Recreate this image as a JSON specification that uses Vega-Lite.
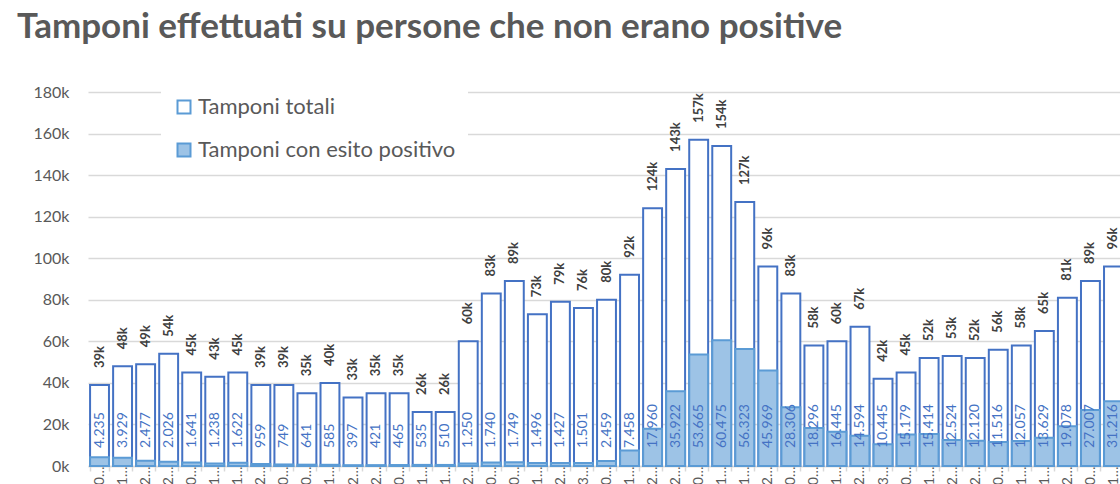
{
  "$schema": "https://vega.github.io/schema/vega-lite/v6.json",
  "width": 1032,
  "height": 374,
  "autosize": {"type": "none"},
  "padding": {"left": 88, "top": 92, "right": 0, "bottom": 18},
  "background": "white",
  "title": {
    "text": "Tamponi effettuati su persone che non erano positive",
    "anchor": "start",
    "frame": "group",
    "font": "Lato",
    "fontSize": 35,
    "fontWeight": "bold",
    "color": "#595959",
    "dx": -71,
    "offset": 39
  },
  "data": {
    "values": [
      {"settimana": "06/05/2020", "totali": 39000, "positivi": 4235},
      {"settimana": "13/05/2020", "totali": 48000, "positivi": 3929},
      {"settimana": "20/05/2020", "totali": 49000, "positivi": 2477},
      {"settimana": "27/05/2020", "totali": 54000, "positivi": 2026},
      {"settimana": "03/06/2020", "totali": 45000, "positivi": 1641},
      {"settimana": "10/06/2020", "totali": 43000, "positivi": 1238},
      {"settimana": "17/06/2020", "totali": 45000, "positivi": 1622},
      {"settimana": "24/06/2020", "totali": 39000, "positivi": 959},
      {"settimana": "01/07/2020", "totali": 39000, "positivi": 749},
      {"settimana": "08/07/2020", "totali": 35000, "positivi": 641},
      {"settimana": "15/07/2020", "totali": 40000, "positivi": 585},
      {"settimana": "22/07/2020", "totali": 33000, "positivi": 397},
      {"settimana": "29/07/2020", "totali": 35000, "positivi": 421},
      {"settimana": "05/08/2020", "totali": 35000, "positivi": 465},
      {"settimana": "12/08/2020", "totali": 26000, "positivi": 535},
      {"settimana": "19/08/2020", "totali": 26000, "positivi": 510},
      {"settimana": "26/08/2020", "totali": 60000, "positivi": 1250},
      {"settimana": "02/09/2020", "totali": 83000, "positivi": 1740},
      {"settimana": "09/09/2020", "totali": 89000, "positivi": 1749},
      {"settimana": "16/09/2020", "totali": 73000, "positivi": 1496},
      {"settimana": "23/09/2020", "totali": 79000, "positivi": 1427},
      {"settimana": "30/09/2020", "totali": 76000, "positivi": 1501},
      {"settimana": "07/10/2020", "totali": 80000, "positivi": 2459},
      {"settimana": "14/10/2020", "totali": 92000, "positivi": 7458},
      {"settimana": "21/10/2020", "totali": 124000, "positivi": 17960},
      {"settimana": "28/10/2020", "totali": 143000, "positivi": 35922},
      {"settimana": "04/11/2020", "totali": 157000, "positivi": 53665},
      {"settimana": "11/11/2020", "totali": 154000, "positivi": 60475},
      {"settimana": "18/11/2020", "totali": 127000, "positivi": 56323},
      {"settimana": "25/11/2020", "totali": 96000, "positivi": 45969},
      {"settimana": "02/12/2020", "totali": 83000, "positivi": 28306},
      {"settimana": "09/12/2020", "totali": 58000, "positivi": 18296},
      {"settimana": "16/12/2020", "totali": 60000, "positivi": 16445},
      {"settimana": "23/12/2020", "totali": 67000, "positivi": 14594},
      {"settimana": "30/12/2020", "totali": 42000, "positivi": 10445},
      {"settimana": "06/01/2021", "totali": 45000, "positivi": 15179},
      {"settimana": "13/01/2021", "totali": 52000, "positivi": 15414},
      {"settimana": "20/01/2021", "totali": 53000, "positivi": 12524},
      {"settimana": "27/01/2021", "totali": 52000, "positivi": 12120},
      {"settimana": "03/02/2021", "totali": 56000, "positivi": 11516},
      {"settimana": "10/02/2021", "totali": 58000, "positivi": 12057},
      {"settimana": "17/02/2021", "totali": 65000, "positivi": 13629},
      {"settimana": "24/02/2021", "totali": 81000, "positivi": 19078},
      {"settimana": "03/03/2021", "totali": 89000, "positivi": 27007},
      {"settimana": "10/03/2021", "totali": 96000, "positivi": 31216}
    ]
  },
  "encoding": {
    "x": {
      "field": "settimana",
      "type": "nominal",
      "sort": null,
      "title": null,
      "scale": {"range": [0, 1037], "paddingInner": 0.18, "paddingOuter": 0.09},
      "axis": {
        "labelAngle": -90,
        "labelFontSize": 14,
        "labelLimit": 22,
        "labelPadding": -5,
        "tickColor": "#d9d9d9",
        "tickSize": 5,
        "tickWidth": 1.5,
        "tickBand": "extent",
        "domainColor": "#d9d9d9",
        "domainWidth": 1.5,
        "grid": false
      }
    }
  },
  "layer": [
    {
      "mark": {"type": "bar", "stroke": "#4472C4", "strokeWidth": 2},
      "encoding": {
        "y": {
          "field": "totali",
          "type": "quantitative",
          "title": null,
          "scale": {"domain": [0, 180000]},
          "axis": {
            "values": [0, 20000, 40000, 60000, 80000, 100000, 120000, 140000, 160000, 180000],
            "labelExpr": "datum.value / 1000 + 'k'",
            "domain": false,
            "ticks": false,
            "labelPadding": 19,
            "labelFontSize": 16
          }
        },
        "fill": {
          "datum": "Tamponi totali",
          "type": "nominal",
          "scale": {
            "domain": ["Tamponi totali", "Tamponi con esito positivo"],
            "range": ["#ffffff", "#9DC3E6"]
          },
          "legend": {
            "orient": "none",
            "legendX": 73,
            "legendY": -8,
            "title": null,
            "direction": "vertical",
            "symbolType": "square",
            "symbolSize": 169,
            "symbolStrokeColor": "#4472C4",
            "symbolStrokeWidth": 2,
            "labelFont": "Lato",
            "labelFontSize": 22,
            "labelColor": "#595959",
            "labelOffset": 3,
            "labelLimit": 400,
            "rowPadding": 21,
            "fillColor": "white",
            "padding": 12
          }
        }
      }
    },
    {
      "mark": {"type": "bar", "stroke": "#5B9BD5", "strokeWidth": 2},
      "encoding": {
        "y": {"field": "positivi", "type": "quantitative"},
        "fill": {"datum": "Tamponi con esito positivo", "type": "nominal"}
      }
    },
    {
      "mark": {
        "type": "text",
        "angle": 270,
        "align": "left",
        "baseline": "middle",
        "dx": 17,
        "font": "Lato",
        "fontSize": 13,
        "fontWeight": "bold",
        "color": "#404040"
      },
      "encoding": {
        "y": {"field": "totali", "type": "quantitative"},
        "text": {"field": "totali", "type": "quantitative", "format": ".3~s"}
      }
    },
    {
      "mark": {
        "type": "text",
        "angle": 270,
        "align": "left",
        "baseline": "middle",
        "dx": 18,
        "font": "Lato",
        "fontSize": 14,
        "color": "#4472C4"
      },
      "encoding": {
        "y": {"datum": 0, "type": "quantitative"},
        "text": {"field": "positivi", "type": "quantitative", "format": ",d"}
      }
    }
  ],
  "config": {
    "locale": {
      "number": {"decimal": ",", "thousands": ".", "grouping": [3], "currency": ["€", ""]}
    },
    "view": {"stroke": null},
    "axis": {
      "labelFont": "Lato",
      "labelColor": "#595959",
      "gridColor": "#d9d9d9",
      "gridWidth": 1.5
    }
  }
}
